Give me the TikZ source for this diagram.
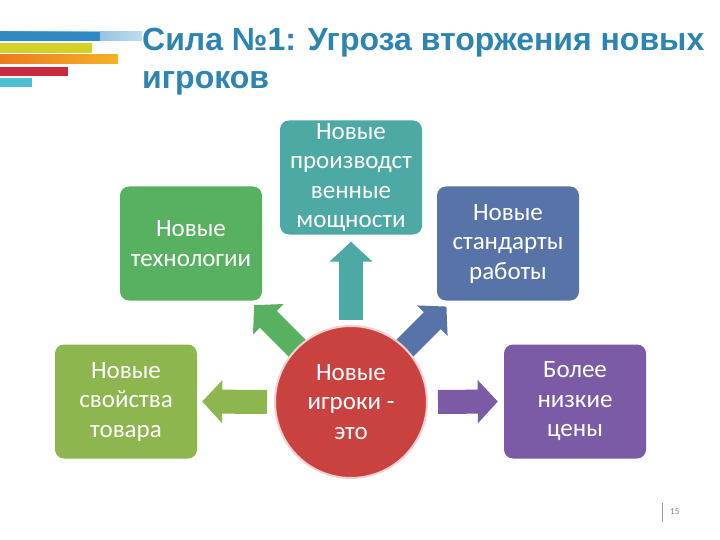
\documentclass[tikz,border=0pt]{standalone}
\usepackage{fontspec}
\setmainfont{Carlito}
\newfontfamily\titlefont{Liberation Sans}
\usetikzlibrary{arrows.meta,backgrounds}

\definecolor{ctitle}{HTML}{2C84B2}
\definecolor{cteal}{HTML}{4CA9A3}
\definecolor{cgreen}{HTML}{58B160}
\definecolor{cblue}{HTML}{5873A8}
\definecolor{clime}{HTML}{8DB74E}
\definecolor{cpurple}{HTML}{7B5BA6}
\definecolor{cred}{HTML}{C9423F}
\definecolor{sblue}{HTML}{2F8AC4}
\definecolor{syellow}{HTML}{D2D226}
\definecolor{sorange}{HTML}{EE7A22}
\definecolor{sgold}{HTML}{F4B223}
\definecolor{sred}{HTML}{C9293F}
\definecolor{scyan}{HTML}{4EBFCF}

\begin{document}
\begin{tikzpicture}[x=1pt,y=-1pt]
  \def\bw{142pt}
  \def\bh{114pt}

\tikzstyle{box}=[rounded corners=9pt,minimum width=\bw,minimum height=\bh,inner sep=0pt,
  text=white,align=center,font=\fontsize{25}{29.5}\selectfont]
\tikzstyle{blk}=[line width=24pt,-{Triangle[length=20pt,width=42pt]}]

\useasboundingbox (0,0) rectangle (720,540);

% stripes
\shade[left color=sblue,right color=sblue!30] (0,32) rectangle (142,41);
\fill[sblue] (0,32) rectangle (100,41);
\fill[syellow] (0,43) rectangle (92,53);
\shade[left color=sorange,right color=sgold] (0,55) rectangle (118,64);
\fill[sred] (0,67) rectangle (68,76);
\fill[scyan] (0,78) rectangle (32,87);

\node[anchor=base west,inner sep=0pt,text=ctitle,font=\titlefont\bfseries\fontsize{32}{38}\selectfont] (T1) at (142,51) {Сила №1: Угроза вторжения новых};
\node[anchor=base west,inner sep=0pt,text=ctitle,font=\titlefont\bfseries\fontsize{32}{38}\selectfont] (T2) at (142,89) {игроков};

\node[box][fill=cteal] (cap) at (351,177.5) {Новые\\производст\\венные\\мощности};
\node[box][fill=cgreen] (tech) at (191,243.5) {Новые\\технологии};
\node[box][fill=cblue] (std) at (508,243.5) {Новые\\стандарты\\работы};
\node[box][fill=clime] (prop) at (126,401.5) {Новые\\свойства\\товара};
\node[box][fill=cpurple] (price) at (575,401.5) {Более\\низкие\\цены};

\node[circle,fill=cred,draw=cred!25,line width=2pt,minimum size=152pt,inner sep=0pt,
  text=white,align=center,font=\fontsize{25}{29.5}\selectfont] (ctr) at (351,402) {Новые\\игроки -\\это};

\begin{scope}[on background layer]
\draw[blk,cteal,shorten <=5pt,shorten >=7pt] (ctr.north) -- (cap.south);
\draw[blk,cgreen,shorten <=-6pt] (ctr.135) -- ++(225:60);
\draw[blk,cblue,shorten <=-6pt] (ctr.45) -- ++(315:58);
\draw[blk,clime,shorten <=7pt,shorten >=5pt] (ctr.west) -- (prop.east);
\draw[blk,cpurple,shorten <=10pt,shorten >=6pt] (ctr.east) -- (price.west);
\end{scope}

\draw[gray!80] (662,503) -- (662,522);
\node[anchor=west,inner sep=0pt,text=gray,font=\fontsize{9}{10}\selectfont] (pnum) at (670,512) {15};
\end{tikzpicture}
\end{document}
